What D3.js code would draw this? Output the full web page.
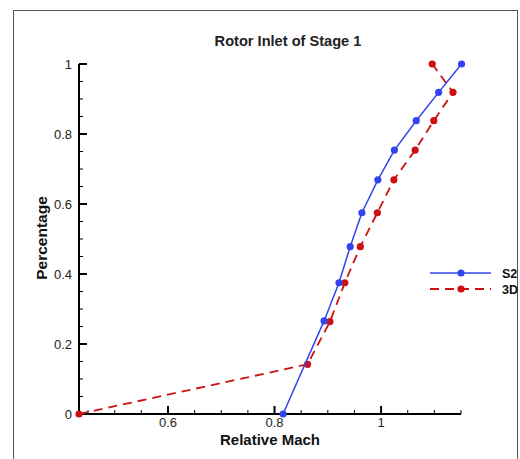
<!DOCTYPE html>
<html><head><meta charset="utf-8">
<script src="https://cdn.jsdelivr.net/npm/d3@7"></script>
<style>body{margin:0;background:#fff}svg{display:block}text{font-family:Arial,"Liberation Sans",sans-serif}</style>
</head><body><div id="c"></div>
<script>
const title = "Rotor Inlet of Stage 1";
const xLabel = "Relative Mach";
const yLabel = "Percentage";
const seriesNames = ["S2", "3D"];
const s2Mach = [0.816, 0.893, 0.921, 0.942, 0.964, 0.994, 1.025, 1.066, 1.108, 1.151];
const s2Pct  = [0.000, 0.266, 0.375, 0.478, 0.575, 0.669, 0.754, 0.838, 0.919, 1.000];
const d3Mach = [0.433, 0.862, 0.904, 0.932, 0.961, 0.993, 1.024, 1.064, 1.099, 1.135, 1.096];
const d3Pct  = [0.000, 0.142, 0.264, 0.375, 0.478, 0.575, 0.669, 0.754, 0.838, 0.919, 1.000];
const xTicks = [0.6, 0.8, 1];
const yTicks = [0, 0.2, 0.4, 0.6, 0.8, 1];

const W = 520, H = 459;
const svg = d3.select("#c").append("svg").attr("width", W).attr("height", H);
svg.append("rect").attr("x", 13.5).attr("y", 10.5).attr("width", 504).attr("height", 470)
  .attr("fill", "none").attr("stroke", "#555").attr("stroke-width", 1);

const x = d3.scaleLinear().domain([0.433, 1.15]).range([79, 461]);
const y = d3.scaleLinear().domain([0, 1]).range([414, 64]);

const g = svg.append("g");
const xMinor = d3.range(0.45, 1.151, 0.05).filter(v => !xTicks.some(t => Math.abs(t - v) < 1e-6));
const yMinor = d3.range(0.05, 1.0, 0.05).filter(v => !yTicks.some(t => Math.abs(t - v) < 1e-6));
g.selectAll(".xm").data(xMinor).join("line").attr("x1", d => x(d)).attr("x2", d => x(d))
  .attr("y1", y(0)).attr("y2", y(0) - 4).attr("stroke", "#000").attr("stroke-width", 1);
g.selectAll(".xM").data(xTicks).join("line").attr("x1", d => x(d)).attr("x2", d => x(d))
  .attr("y1", y(0)).attr("y2", y(0) - 8).attr("stroke", "#000").attr("stroke-width", 2);
g.selectAll(".ym").data(yMinor).join("line").attr("y1", d => y(d)).attr("y2", d => y(d))
  .attr("x1", x(0.433)).attr("x2", x(0.433) + 4).attr("stroke", "#000").attr("stroke-width", 1);
g.selectAll(".yM").data(yTicks).join("line").attr("y1", d => y(d)).attr("y2", d => y(d))
  .attr("x1", x(0.433)).attr("x2", x(0.433) + 8).attr("stroke", "#000").attr("stroke-width", 2);
g.append("line").attr("x1", 79).attr("x2", 461).attr("y1", 414).attr("y2", 414).attr("stroke", "#000").attr("stroke-width", 2);
g.append("line").attr("x1", 79).attr("x2", 79).attr("y1", 64).attr("y2", 415).attr("stroke", "#000").attr("stroke-width", 2);

g.selectAll(".xl").data(xTicks).join("text").attr("x", d => x(d)).attr("y", 427)
  .attr("text-anchor", "middle").attr("font-size", 13).attr("fill", "#222").text(d => d3.format("~g")(d));
g.selectAll(".yl").data(yTicks).join("text").attr("x", 72).attr("y", d => y(d) + 4.5)
  .attr("text-anchor", "end").attr("font-size", 13).attr("fill", "#222").text(d => d3.format("~g")(d));

svg.append("text").attr("x", 288).attr("y", 46).attr("text-anchor", "middle")
  .attr("font-size", 14.6).attr("font-weight", "bold").attr("fill", "#222").text(title);
svg.append("text").attr("x", 270).attr("y", 445).attr("text-anchor", "middle")
  .attr("font-size", 15).attr("font-weight", "bold").attr("fill", "#111").text(xLabel);
svg.append("text").attr("transform", "translate(47,238) rotate(-90)").attr("text-anchor", "middle")
  .attr("font-size", 15.5).attr("font-weight", "bold").attr("fill", "#111").text(yLabel);

const blue = "#3344ee", red = "#cc1111";
const line = d3.line().x(d => x(d[0])).y(d => y(d[1]));
const s2 = s2Mach.map((m, i) => [m, s2Pct[i]]);
const d3d = d3Mach.map((m, i) => [m, d3Pct[i]]);

svg.append("path").attr("d", line(d3d)).attr("fill", "none").attr("stroke", red)
  .attr("stroke-width", 1.8).attr("stroke-dasharray", "9,6");
svg.selectAll(".rd").data(d3d).join("circle").attr("cx", d => x(d[0])).attr("cy", d => y(d[1]))
  .attr("r", 3.6).attr("fill", red);
svg.append("path").attr("d", line(s2)).attr("fill", "none").attr("stroke", blue).attr("stroke-width", 1.5);
svg.selectAll(".bd").data(s2).join("circle").attr("cx", d => x(d[0])).attr("cy", d => y(d[1]))
  .attr("r", 3.6).attr("fill", blue);

const lg = svg.append("g");
const colors = [blue, red];
seriesNames.forEach((n, i) => {
  const ly = 273 + i * 16;
  lg.append("line").attr("x1", 430).attr("x2", 491).attr("y1", ly).attr("y2", ly)
    .attr("stroke", colors[i]).attr("stroke-width", i ? 1.8 : 1.5)
    .attr("stroke-dasharray", i ? "9,6" : null);
  lg.append("circle").attr("cx", 461).attr("cy", ly).attr("r", 3.6).attr("fill", colors[i]);
  lg.append("text").attr("x", 502).attr("y", ly + 4.5).attr("font-size", 12.5)
    .attr("font-weight", "bold").attr("fill", "#111").text(n);
});
</script></body></html>
